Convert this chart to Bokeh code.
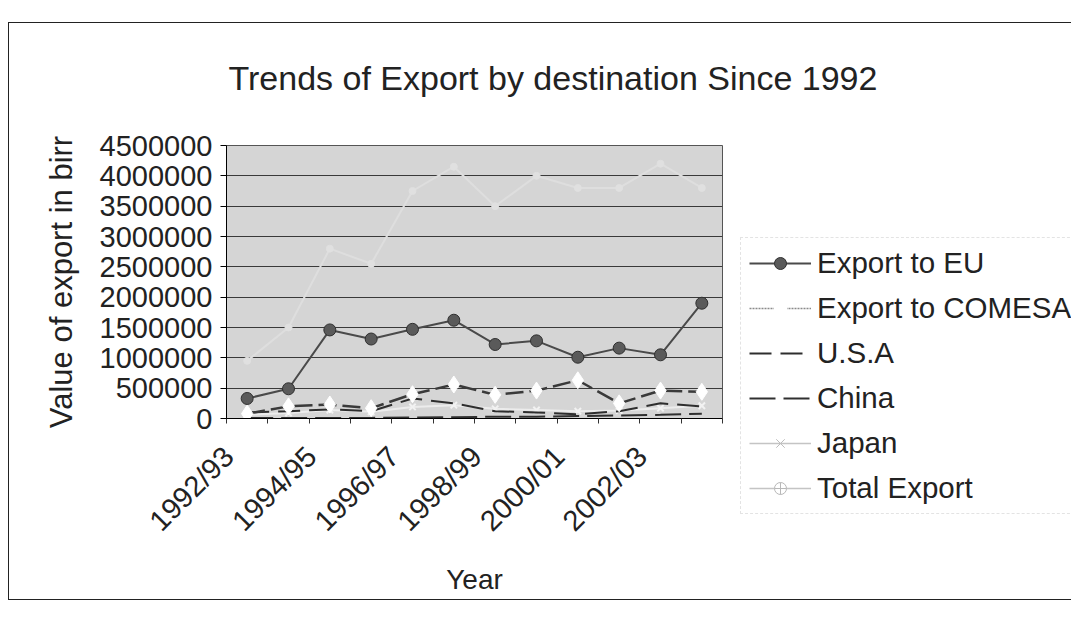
import math
from bokeh.plotting import figure
from bokeh.models import (Range1d, FixedTicker, NumeralTickFormatter, Legend, LegendItem,
                          InlineStyleSheet)
from bokeh.embed import file_html
from bokeh.resources import INLINE

# ---------------- data ----------------
years = ["1992/93", "1993/94", "1994/95", "1995/96", "1996/97", "1997/98",
         "1998/99", "1999/00", "2000/01", "2001/02", "2002/03", "2003/04"]
export_eu = [330000, 490000, 1460000, 1310000, 1470000, 1620000,
             1220000, 1280000, 1010000, 1160000, 1050000, 1900000]
export_comesa = [80000, 200000, 230000, 170000, 400000, 560000,
                 390000, 460000, 630000, 250000, 460000, 440000]
usa = [100000, 120000, 150000, 120000, 330000, 250000,
       120000, 100000, 70000, 120000, 250000, 200000]
china = [10000, 10000, 10000, 10000, 15000, 20000,
         30000, 30000, 40000, 50000, 60000, 80000]
japan = [60000, 90000, 140000, 110000, 190000, 220000,
         160000, 140000, 120000, 130000, 170000, 210000]
total_export = [950000, 1500000, 2800000, 2550000, 3750000, 4150000,
                3500000, 4000000, 3800000, 3800000, 4200000, 3800000]
y_ticks = [0, 500000, 1000000, 1500000, 2000000, 2500000, 3000000, 3500000, 4000000, 4500000]
shown_labels = ["1992/93", "1994/95", "1996/97", "1998/99", "2000/01", "2002/03"]
series_names = ["Export to EU", "Export to COMESA", "U.S.A", "China", "Japan", "Total Export"]

FONT = "Liberation Sans"
TXT = "#222222"
idx = list(range(len(years)))

p = figure(width=1071, height=633, frame_width=496, frame_height=273,
           output_backend="svg", toolbar_location=None,
           x_range=Range1d(-0.5, len(years) - 0.5), y_range=Range1d(0, 4500000),
           min_border_left=226, min_border_right=0, min_border_top=145, min_border_bottom=215)
p.background_fill_color = "#d5d5d5"
p.border_fill_color = "white"
p.outline_line_color = "#555555"

p.title.text = "Trends of Export by destination Since 1992"
p.title.align = "left"
p.title.offset = 2
p.title.standoff = 98
p.title.text_font = FONT
p.title.text_font_size = "34px"
p.title.text_font_style = "normal"
p.title.text_color = TXT

p.xgrid.grid_line_color = None
p.ygrid.ticker = FixedTicker(ticks=y_ticks)
p.ygrid.grid_line_color = "#3a3a3a"
p.ygrid.grid_line_width = 1

ya = p.yaxis[0]
ya.ticker = FixedTicker(ticks=y_ticks)
ya.formatter = NumeralTickFormatter(format="0")
ya.major_label_text_font = FONT
ya.major_label_text_font_size = "29px"
ya.major_label_text_color = TXT
ya.major_tick_out = 6
ya.major_tick_in = 0
ya.minor_tick_line_color = None
ya.major_label_standoff = 8
ya.axis_line_color = "black"
ya.axis_label = "Value of export in birr"
ya.axis_label_text_font = FONT
ya.axis_label_text_font_size = "31px"
ya.axis_label_text_font_style = "normal"
ya.axis_label_text_color = TXT
ya.axis_label_standoff = 18

# labels for every second year, set to the left of their category like the original
label_pos = [years.index(s) - 0.45 for s in shown_labels]
minor = [i - 0.5 for i in range(len(years) + 1)]
xa = p.xaxis[0]
xa.ticker = FixedTicker(ticks=label_pos, minor_ticks=minor)
xa.major_label_overrides = {pos: lab for pos, lab in zip(label_pos, shown_labels)}
xa.major_label_orientation = math.pi / 4
xa.major_label_text_font = FONT
xa.major_label_text_font_size = "29px"
xa.major_label_text_color = TXT
xa.major_tick_line_color = None
xa.minor_tick_out = 5
xa.minor_tick_in = 0
xa.minor_tick_line_color = "#333333"
xa.major_label_standoff = 27
xa.axis_line_color = "black"
xa.axis_label = "Year"
xa.axis_label_text_font = FONT
xa.axis_label_text_font_size = "28px"
xa.axis_label_text_font_style = "normal"
xa.axis_label_text_color = TXT
xa.axis_label_standoff = 13

p.line(idx, total_export, line_color="#dedede", line_width=2)
p.scatter(idx, total_export, marker="circle", size=7, fill_color="#e0e0e0", line_color="#e0e0e0")
p.line(idx, japan, line_color="#ececec", line_width=2)
p.scatter(idx, japan, marker="x", size=9, line_color="#f2f2f2", line_width=2)
r_chi = p.line(idx, china, line_color="#303030", line_width=2, line_dash="26 8")
r_usa = p.line(idx, usa, line_color="#2e2e2e", line_width=2, line_dash="22 9")
p.line(idx, export_comesa, line_color="#3a3a3a", line_width=2.5, line_dash="18 6")
p.scatter(idx, export_comesa, marker="diamond", size=17, fill_color="white", line_color="white")
r_eu_l = p.line(idx, export_eu, line_color="#4a4a4a", line_width=2)
r_eu_m = p.scatter(idx, export_eu, marker="circle", size=12, fill_color="#5a5a5a", line_color="#2f2f2f")

# legend swatches for the pale series (hidden renderers, style only)
l_com = [p.line(idx, export_comesa, line_color="#8a8a8a", line_width=1.5, line_dash="2 1", visible=False),
         p.scatter(idx, export_comesa, marker="square", size=12, fill_color="white",
                   line_color="white", visible=False)]
l_jap = [p.line(idx, japan, line_color="#c4c4c4", line_width=1.5, visible=False),
         p.scatter(idx, japan, marker="x", size=8, line_color="#bdbdbd", visible=False)]
l_tot = [p.line(idx, total_export, line_color="#c4c4c4", line_width=1.5, visible=False),
         p.scatter(idx, total_export, marker="circle_cross", size=9, fill_color="white",
                   line_color="#b8b8b8", visible=False)]

legend = Legend(items=[LegendItem(label=n, renderers=r) for n, r in
                       zip(series_names, [[r_eu_l, r_eu_m], l_com, [r_usa], [r_chi], l_jap, l_tot])],
                location=(18, -96))
legend.label_text_font = FONT
legend.label_text_font_size = "29.5px"
legend.label_text_color = TXT
legend.glyph_width = 62
legend.glyph_height = 30
legend.label_height = 30
legend.label_standoff = 6
legend.spacing = 11
legend.padding = 8
legend.margin = 0
legend.border_line_color = "#c8c8c8"
legend.border_line_dash = "3 2"
legend.background_fill_color = "white"
legend.background_fill_alpha = 1
legend.inactive_fill_alpha = 0
p.add_layout(legend, "right")

p.stylesheets = [InlineStyleSheet(css="""
:host::after {
  content: ""; position: fixed; left: 8px; top: 22px; width: 1090px; height: 578px;
  border: 1.5px solid #222; pointer-events: none; box-sizing: border-box;
}
""")]

open("out.html", "w").write(file_html(p, INLINE))
